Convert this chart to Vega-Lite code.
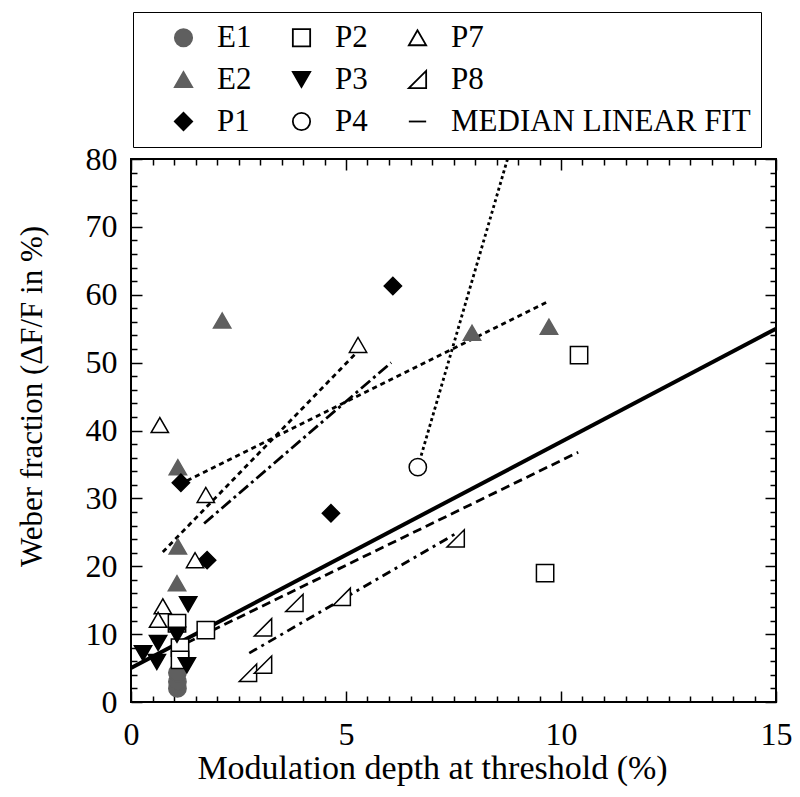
{
  "$schema": "https://vega.github.io/schema/vega-lite/v6.json",
  "width": 645,
  "height": 543,
  "autosize": {"type": "none"},
  "padding": {"left": 131, "top": 159, "right": 24, "bottom": 95},
  "background": "white",
  "config": {
    "font": "Liberation Serif",
    "view": {"stroke": "black", "strokeWidth": 2},
    "axis": {"grid": false, "labelFont": "Liberation Serif", "titleFont": "Liberation Serif", "labelColor": "black", "titleColor": "black", "tickColor": "black", "domainColor": "black", "titleFontWeight": "normal"}
  },
  "datasets": {
    "median": [
      {"x": 0, "y": 5.0},
      {"x": 15, "y": 55.0}
    ],
    "lines": [
      {"series": "E2", "x": 1.3, "y": 32.6},
      {"series": "E2", "x": 9.7, "y": 59.0},
      {"series": "P1", "x": 1.7, "y": 26.3},
      {"series": "P1", "x": 6.05, "y": 50.0},
      {"series": "P2", "x": 1.0, "y": 7.8},
      {"series": "P2", "x": 10.4, "y": 36.8},
      {"series": "P4", "x": 6.67, "y": 34.6},
      {"series": "P4", "x": 9.0, "y": 85.3},
      {"series": "P7", "x": 0.74, "y": 22.1},
      {"series": "P7", "x": 5.25, "y": 51.5},
      {"series": "P8", "x": 2.75, "y": 7.2},
      {"series": "P8", "x": 7.55, "y": 24.8}
    ],
    "points": [
      {"series": "E1", "x": 1.08, "y": 2.0},
      {"series": "E1", "x": 1.08, "y": 3.0},
      {"series": "E1", "x": 1.08, "y": 4.3},
      {"series": "E2", "x": 1.09, "y": 34.6},
      {"series": "E2", "x": 1.09, "y": 22.9},
      {"series": "E2", "x": 1.07, "y": 17.5},
      {"series": "E2", "x": 2.12, "y": 56.2},
      {"series": "E2", "x": 7.93, "y": 54.4},
      {"series": "E2", "x": 9.72, "y": 55.3},
      {"series": "P1", "x": 1.16, "y": 32.3},
      {"series": "P1", "x": 1.77, "y": 20.9},
      {"series": "P1", "x": 4.65, "y": 27.8},
      {"series": "P1", "x": 6.09, "y": 61.3},
      {"series": "P2", "x": 1.07, "y": 11.6},
      {"series": "P2", "x": 1.74, "y": 10.6},
      {"series": "P2", "x": 1.14, "y": 8.0},
      {"series": "P2", "x": 1.14, "y": 6.2},
      {"series": "P2", "x": 9.63, "y": 19.0},
      {"series": "P2", "x": 10.42, "y": 51.1},
      {"series": "P3", "x": 0.28, "y": 7.2},
      {"series": "P3", "x": 0.6, "y": 5.9},
      {"series": "P3", "x": 0.63, "y": 8.7},
      {"series": "P3", "x": 1.07, "y": 9.9},
      {"series": "P3", "x": 1.3, "y": 5.4},
      {"series": "P3", "x": 1.33, "y": 14.4},
      {"series": "P4", "x": 6.67, "y": 34.6},
      {"series": "P7", "x": 0.67, "y": 40.8},
      {"series": "P7", "x": 1.74, "y": 30.5},
      {"series": "P7", "x": 1.49, "y": 20.9},
      {"series": "P7", "x": 0.74, "y": 14.1},
      {"series": "P7", "x": 0.63, "y": 12.1},
      {"series": "P7", "x": 5.28, "y": 52.6},
      {"series": "P8", "x": 2.72, "y": 4.3},
      {"series": "P8", "x": 3.07, "y": 5.5},
      {"series": "P8", "x": 3.07, "y": 11.0},
      {"series": "P8", "x": 3.8, "y": 14.6},
      {"series": "P8", "x": 4.9, "y": 15.5},
      {"series": "P8", "x": 7.55, "y": 24.1}
    ]
  },
  "layer": [
    {
      "data": {"name": "median"},
      "mark": {"type": "line", "color": "black", "strokeWidth": 4, "clip": true},
      "encoding": {
        "x": {
          "field": "x", "type": "quantitative",
          "scale": {"domain": [0, 15], "nice": false, "zero": false},
          "axis": {
            "orient": "bottom",
            "title": "Modulation depth at threshold (%)",
            "titleFontSize": 34,
            "titlePadding": -4,
            "titleX": 301,
            "values": [0,0.5,1,1.5,2,2.5,3,3.5,4,4.5,5,5.5,6,6.5,7,7.5,8,8.5,9,9.5,10,10.5,11,11.5,12,12.5,13,13.5,14,14.5,15],
            "labelExpr": "datum.value % 5 === 0 ? '' + datum.value : ''",
            "labelFontSize": 32,
            "labelPadding": 28,
            "labelFlush": false,
            "labelOverlap": false,
            "domain": false,
            "tickWidth": 1.5,
            "tickSize": {"condition": {"test": "datum.value % 5 === 0", "value": -11}, "value": -6}
          }
        },
        "y": {
          "field": "y", "type": "quantitative",
          "scale": {"domain": [0, 80], "nice": false, "zero": false},
          "axis": {
            "orient": "left",
            "title": "Weber fraction (ΔF/F in %)",
            "titleFontSize": 31,
            "titlePadding": 37,
            "titleY": 237,
            "values": [0,2,4,6,8,10,12,14,16,18,20,22,24,26,28,30,32,34,36,38,40,42,44,46,48,50,52,54,56,58,60,62,64,66,68,70,72,74,76,78,80],
            "labelExpr": "datum.value % 10 === 0 ? '' + datum.value : ''",
            "labelFontSize": 32,
            "labelPadding": 25,
            "labelFlush": false,
            "labelOverlap": false,
            "domain": false,
            "tickWidth": 1.5,
            "tickSize": {"condition": {"test": "datum.value % 10 === 0", "value": -11}, "value": -6}
          }
        }
      }
    },
    {
      "data": {"name": "lines"},
      "mark": {"type": "line", "color": "black", "strokeWidth": 2.8, "clip": true},
      "encoding": {
        "x": {
          "field": "x", "type": "quantitative",
          "axis": {
            "orient": "top", "title": null, "labels": false, "domain": false, "tickWidth": 1.5,
            "values": [0,0.5,1,1.5,2,2.5,3,3.5,4,4.5,5,5.5,6,6.5,7,7.5,8,8.5,9,9.5,10,10.5,11,11.5,12,12.5,13,13.5,14,14.5,15],
            "tickSize": {"condition": {"test": "datum.value % 5 === 0", "value": -11}, "value": -6}
          }
        },
        "y": {
          "field": "y", "type": "quantitative",
          "axis": {
            "orient": "right", "title": null, "labels": false, "domain": false, "tickWidth": 1.5,
            "values": [0,2,4,6,8,10,12,14,16,18,20,22,24,26,28,30,32,34,36,38,40,42,44,46,48,50,52,54,56,58,60,62,64,66,68,70,72,74,76,78,80],
            "tickSize": {"condition": {"test": "datum.value % 10 === 0", "value": -11}, "value": -6}
          }
        },
        "strokeDash": {
          "field": "series", "type": "nominal",
          "scale": {"domain": ["E2", "P1", "P2", "P4", "P7", "P8"], "range": [[5, 4], [12, 4, 3, 4], [9, 5], [3, 3], [5, 4], [9, 5, 3, 5]]},
          "legend": null
        }
      }
    },
    {
      "data": {"name": "points"},
      "mark": {"type": "point", "size": 300, "strokeWidth": 1.5, "opacity": 1},
      "encoding": {
        "x": {"field": "x", "type": "quantitative", "axis": null},
        "y": {"field": "y", "type": "quantitative", "axis": null},
        "fill": {
          "field": "series", "type": "nominal",
          "scale": {"domain": ["E1", "E2", "P1", "P2", "P3", "P4", "P7", "P8", "MEDIAN LINEAR FIT"], "range": ["#5f5f5f", "#5f5f5f", "black", "white", "black", "white", "white", "white", "white"]},
          "legend": null
        },
        "stroke": {
          "field": "series", "type": "nominal",
          "scale": {"domain": ["E1", "E2", "P1", "P2", "P3", "P4", "P7", "P8", "MEDIAN LINEAR FIT"], "range": ["#5f5f5f", "#5f5f5f", "black", "black", "black", "black", "black", "black", "black"]},
          "legend": null
        },
        "shape": {
          "field": "series", "type": "nominal",
          "scale": {"domain": ["E1", "E2", "P1", "P2", "P3", "P4", "P7", "P8", "MEDIAN LINEAR FIT"], "range": ["circle", "triangle-up", "diamond", "square", "triangle-down", "circle", "triangle-up", "M1,-1L1,1L-1,1Z", "stroke"]},
          "legend": {
            "orient": "none",
            "legendX": 2,
            "legendY": -147,
            "columns": 3,
            "title": " ",
            "titleOrient": "left",
            "titleFontSize": 1,
            "titlePadding": 25,
            "symbolSize": 300,
            "symbolStrokeWidth": 1.8,
            "labelOffset": 18,
            "labelFont": "Liberation Serif",
            "labelFontSize": 31,
            "labelLimit": 600,
            "padding": 10,
            "strokeColor": "black",
            "columnPadding": 34,
            "rowPadding": 10,
            "encode": {
              "symbols": {
                "size": {"condition": {"test": "datum.value === 'MEDIAN LINEAR FIT'", "value": 3600}, "value": 300},
                "strokeWidth": {"condition": {"test": "datum.value === 'MEDIAN LINEAR FIT'", "value": 4}, "value": 1.8}
              },
              "labels": {
                "fill": {"condition": {"test": "datum.value === 'E1' || datum.value === 'E2'", "value": "#5f5f5f"}, "value": "black"}
              }
            }
          }
        }
      }
    }
  ]
}
